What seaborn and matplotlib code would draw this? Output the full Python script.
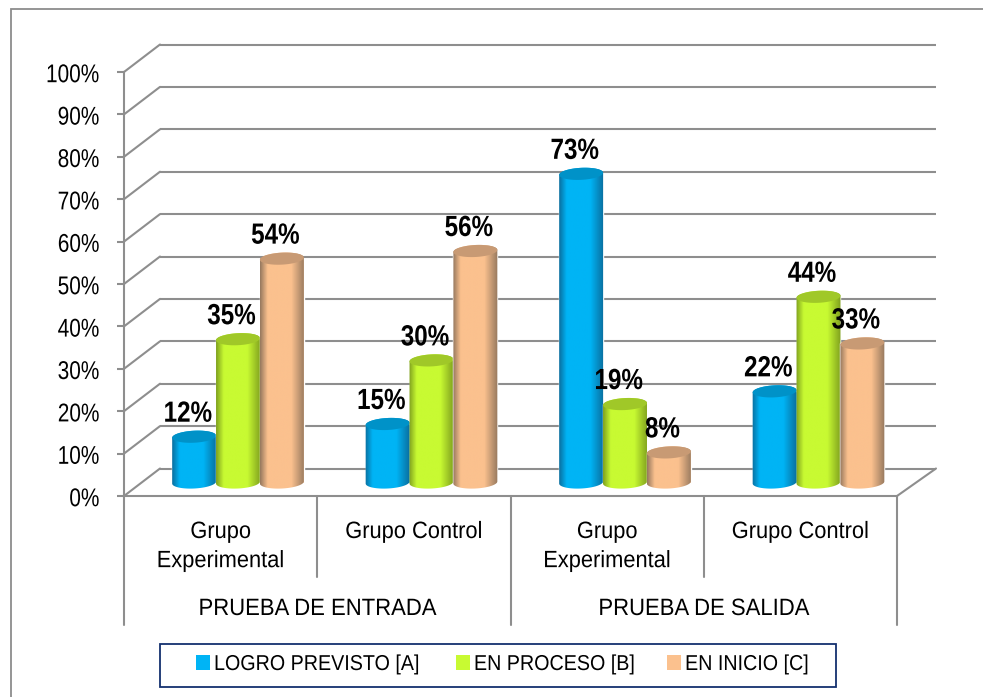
import numpy as np
import pandas as pd
import matplotlib
matplotlib.use("Agg")
import matplotlib.pyplot as plt
from matplotlib.colors import LinearSegmentedColormap
from matplotlib.patches import Patch, Polygon, Rectangle
from matplotlib.patheffects import AbstractPathEffect
from matplotlib.transforms import Affine2D, ScaledTranslation
import seaborn as sns

groups = ["Grupo\nExperimental", "Grupo Control", "Grupo\nExperimental", "Grupo Control"]
tests = ["PRUEBA DE ENTRADA", "PRUEBA DE SALIDA"]
series = ["LOGRO PREVISTO [A]", "EN PROCESO [B]", "EN INICIO [C]"]
# heights as drawn in the picture
logro = [10.8, 13.8, 72.8, 21.5]
proceso = [33.8, 28.8, 18.5, 43.8]
inicio = [52.8, 54.6, 7.1, 32.8]
# printed data labels
logro_lab = ["12%", "15%", "73%", "22%"]
proceso_lab = ["35%", "30%", "19%", "44%"]
inicio_lab = ["54%", "56%", "8%", "33%"]
yticks = list(range(0, 101, 10))
colors = ["#00B4F5", "#C8FA32", "#FBC18E"]
dark = ["#0A6E9E", "#7FA01E", "#96785E"]
topcol = ["#0092C8", "#A0C828", "#C89A74"]

W, H = 983, 697
sns.set_theme(style="white")
FONT = ["Liberation Sans", "DejaVu Sans"]
plt.rcParams["font.family"] = FONT


class Narrow(AbstractPathEffect):
    """Squeeze a text horizontally, as the narrow face of the original."""

    def __init__(self, s, anchor=0.5):
        super().__init__()
        self.s, self.anchor = s, anchor

    def draw_path(self, renderer, gc, tpath, affine, rgbFace=None):
        e = tpath.get_extents()
        ax_ = e.x0 + self.anchor * e.width
        tr = Affine2D().translate(-ax_, 0).scale(self.s, 1).translate(ax_, 0) + affine
        renderer.draw_path(gc, tpath, tr, rgbFace)


keys = [f"{i}" for i in range(len(groups))]
df = pd.DataFrame({
    "grupo": keys * 3,
    "serie": np.repeat(series, 4),
    "valor": logro + proceso + inicio,
})

PXX, PXY = 193.5, 4.24
X0PX, Y0PX = 238.0, 496.0
LEFT, RIGHT, TOP = 124, 936, 30
FLOOR_R = 897
DX, DY = 36 / PXX, 27.5 / PXY
BASE = 13.5 / PXY
GRAY = "#8E8E8E"
LW = 1.5

fig = plt.figure(figsize=(W / 100, H / 100), dpi=100, facecolor="white")
ax = fig.add_axes([LEFT / W, (H - Y0PX) / H, (RIGHT - LEFT) / W, (Y0PX - TOP) / H])
ax.patch.set_alpha(0)

sns.barplot(data=df, x="grupo", y="valor", hue="serie", hue_order=series, order=keys,
            palette=colors, saturation=1, width=0.68, gap=0, dodge=True, legend=False,
            ax=ax, zorder=3)

xl = ((LEFT - X0PX) / PXX, (RIGHT - X0PX) / PXX)
yl = (0, (Y0PX - TOP) / PXY)
xf = (FLOOR_R - X0PX) / PXX

xback = xl[0] + DX
for v in yticks:
    ax.plot([xback, xl[1]], [v + DY, v + DY], color=GRAY, lw=LW, zorder=1, solid_capstyle="butt")
    ax.plot([xl[0], xback], [v, v + DY], color=GRAY, lw=LW, zorder=1, clip_on=False)
ax.plot([xf, xl[1]], [0, DY], color=GRAY, lw=LW, zorder=1, clip_on=False)


def ell(cx, cy, a=22.0, b=6.0, tilt=3.0, t0=0.0, t1=2 * np.pi):
    t = np.linspace(t0, t1, 60)
    th = np.deg2rad(tilt)
    dx = a * np.cos(t) * np.cos(th) - b * np.sin(t) * np.sin(th)
    dy = a * np.cos(t) * np.sin(th) + b * np.sin(t) * np.cos(th)
    return np.column_stack([cx + dx / PXX, cy + dy / PXY])


all_labels = [logro_lab, proceso_lab, inicio_lab]
for i, cont in enumerate(ax.containers):
    cmap = LinearSegmentedColormap.from_list(
        f"c{i}", [(0, dark[i]), (0.17, colors[i]), (0.7, colors[i]), (1, dark[i])])
    grad = np.linspace(0, 1, 128)[None, :]
    for bar, lab in zip(cont, all_labels[i]):
        v = bar.get_height()
        x0, w = bar.get_x(), bar.get_width()
        cx = x0 + w / 2
        bar.set_y(BASE)
        bar.set_zorder(3 + i)
        bottom = ell(cx, BASE, t0=np.pi, t1=2 * np.pi)
        top = ell(cx, BASE + v)
        body = np.vstack([bottom, top[:30]])
        poly = Polygon(body, closed=True, transform=ax.transData, fc="none", ec="none")
        ax.add_patch(poly)
        im = ax.imshow(grad, extent=[x0 - 0.002, x0 + w + 0.002, BASE - 3, BASE + v + 3],
                       cmap=cmap, aspect="auto", zorder=3 + i + 0.1, interpolation="bilinear")
        im.set_clip_path(poly)
        ax.add_patch(Polygon(top, closed=True, fc=topcol[i], ec="none", zorder=3 + i + 0.2))
        ax.text(cx - 6.5 / PXX, BASE + v + 23 / PXY, lab, ha="center", va="center",
                fontsize=21, fontweight="bold", color="black", zorder=10, family=FONT,
                path_effects=[Narrow(0.83)])

ax.set_xlim(*xl)
ax.set_ylim(*yl)

for s in ["top", "right"]:
    ax.spines[s].set_visible(False)
for s in ["left", "bottom"]:
    ax.spines[s].set_color(GRAY)
    ax.spines[s].set_linewidth(LW)
    ax.spines[s].set_zorder(2)
ax.spines["left"].set_bounds(0, 100)
ax.spines["bottom"].set_bounds(xl[0], xf)
ax.set_xlabel("")
ax.set_ylabel("")
ax.set_yticks(yticks, [f"{v}%" for v in yticks])
ax.tick_params(axis="y", length=5, width=LW, color=GRAY, left=True, labelsize=18.5, pad=12.5,
               labelcolor="black")
down = ScaledTranslation(0, -0.7 / 100, fig.dpi_scale_trans)
for lab in ax.get_yticklabels():
    lab.set_path_effects([Narrow(0.81, anchor=1.0)])
    lab.set_transform(lab.get_transform() + down)

cw = (FLOOR_R - LEFT) / 4 / PXX
edges = [xl[0] + k * cw for k in range(5)]
ax.set_xticks([edges[k] + cw / 2 for k in range(4)], groups)
ax.tick_params(axis="x", length=0, labelsize=17, pad=18, labelcolor="black")
for lab in ax.get_xticklabels():
    lab.set_linespacing(1.42)
    lab.set_va("top")
    lab.set_path_effects([Narrow(0.925)])

for k, x in enumerate(edges):
    low = 625 if k % 2 == 0 else 577
    ax.plot([x, x], [0, (Y0PX - low) / PXY], color=GRAY, lw=LW, clip_on=False, zorder=2)
for k, name in enumerate(tests):
    ax.text(edges[2 * k] + cw, (Y0PX - 609) / PXY, name, ha="center", va="center",
            fontsize=17, color="black", clip_on=False, path_effects=[Narrow(0.935)])

handles = [Patch(fc=c, ec="none", label=s) for c, s in zip(colors, series)]
leg = fig.legend(handles=handles, ncol=3, loc="center left",
                 bbox_to_anchor=(196 / W, (H - 664.5) / H),
                 bbox_transform=fig.transFigure, borderaxespad=0, borderpad=0, fontsize=15.5,
                 frameon=False, handlelength=0.65, handleheight=0.65, handletextpad=0.18,
                 columnspacing=0.84, labelcolor="black")
for t in leg.get_texts():
    t.set_path_effects([Narrow(0.915, anchor=0.0)])

fig.add_artist(Rectangle((160 / W, (H - 686.5) / H), 676 / W, 42.5 / H, transform=fig.transFigure,
                         fc="white", ec="#14306E", lw=1.3, zorder=1))
fig.add_artist(Rectangle((10.5 / W, -0.05), 1.1, (H - 9) / H + 0.05, transform=fig.transFigure,
                         fc="none", ec="#8C8C8C", lw=1.3, zorder=1))

fig.savefig("out.png", dpi=100, facecolor="white")
